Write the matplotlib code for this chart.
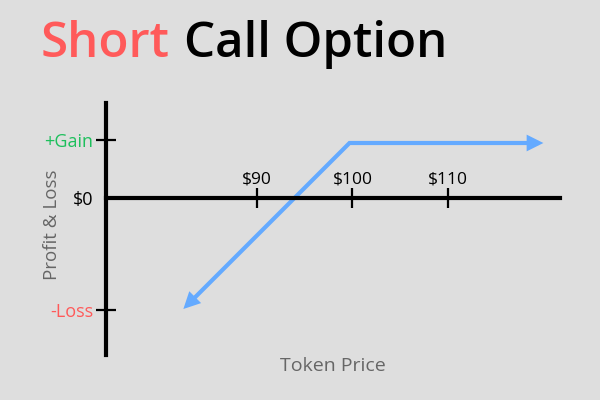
import matplotlib
matplotlib.use('Agg')
import matplotlib.pyplot as plt
from matplotlib.patches import FancyArrowPatch
from matplotlib.path import Path

plt.rcParams['font.family'] = ['Open Sans', 'DejaVu Sans']
plt.rcParams['axes.unicode_minus'] = False

# 数据
price_ticks = [90, 100, 110]
price_labels = ['$90', '$100', '$110']
pnl_ticks = [58, 0, -112]
pnl_labels = ['+Gain', '$0', '-Loss']
pnl_colors = ['#1dbf5c', 'black', '#ff5a5a']

# 收益曲线 (价格, 盈亏)
line_price = [82.3, 99.7, 120.0]
line_pnl = [-111, 55, 55]

BG = '#dedede'
RED = '#ff5a5a'
BLUE = '#64aaff'

fig = plt.figure(figsize=(6, 4), dpi=100, facecolor=BG)
ax = fig.add_axes([0, 0, 1, 1], facecolor=BG)

# 像素对应的坐标范围
x0 = 74.2
ax.set_xlim(x0 - 106 / 9.55, x0 + 494 / 9.55)
ax.set_ylim(-202, 198)

# 坐标轴
for s in ['right', 'bottom']:
    ax.spines[s].set_visible(False)
ax.spines['top'].set_position(('data', 0))
ax.spines['top'].set_bounds(x0, x0 + 454 / 9.55)
ax.spines['left'].set_position(('data', x0))
ax.spines['left'].set_bounds(-157, 95)
for s in ['top', 'left']:
    ax.spines[s].set_linewidth(3)
    ax.spines[s].set_color('black')

ax.xaxis.set_ticks_position('top')
ax.set_xticks(price_ticks)
ax.set_xticklabels(price_labels)
ax.tick_params(axis='x', direction='inout', length=14.5, width=1.6,
               labelsize=12.5, pad=0)

ax.set_yticks(pnl_ticks)
ax.set_yticklabels(pnl_labels)
ax.tick_params(axis='y', direction='inout', length=14.5, width=1.6,
               labelsize=13, pad=2)
for lab, c in zip(ax.get_yticklabels(), pnl_colors):
    lab.set_color(c)
# $0 没有刻度线
ax.yaxis.get_major_ticks()[1].tick1line.set_visible(False)

# 曲线和箭头
verts = list(zip(line_price, line_pnl))
arrow = FancyArrowPatch(path=Path(verts), arrowstyle='<|-|>', mutation_scale=18,
                        color=BLUE, lw=3, joinstyle='miter', capstyle='butt')
ax.add_patch(arrow)

# 轴标签
ax.text(x0 + 227 / 9.55, -168, 'Token Price', ha='center', va='center',
        fontsize=14, color='#666666')
ax.text(x0 - 54 / 9.55, -27, 'Profit & Loss', ha='center', va='center',
        rotation=90, fontsize=13.5, color='#666666')

# 标题
t1 = fig.text(0.068, 0.857, 'Short', fontsize=35.5, color=RED, fontweight='semibold',
              ha='left', va='baseline')
ax.annotate('Call Option', xy=(1, 0), xycoords=t1, xytext=(10, 0),
            textcoords='offset points', fontsize=35.5, color='black',
            fontweight='semibold', ha='left', va='bottom')

fig.savefig('out.png', dpi=100, facecolor=BG)
